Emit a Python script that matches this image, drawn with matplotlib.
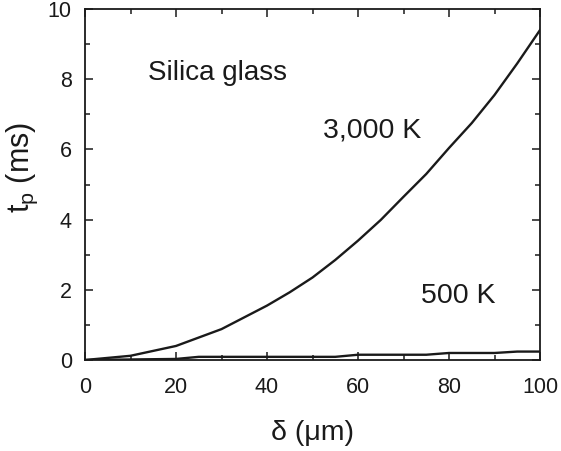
import matplotlib
matplotlib.use("Agg")
import matplotlib.pyplot as plt
from matplotlib.ticker import MultipleLocator

plt.rcParams['font.family'] = ['Liberation Sans', 'DejaVu Sans']

delta_um = [0, 10, 20, 30, 40, 45, 50, 55, 60, 65, 70, 75, 80, 85, 90, 95, 100]
tp_3000K = [0, 0.12, 0.40, 0.88, 1.55, 1.93, 2.35, 2.85, 3.40, 3.99, 4.65, 5.30, 6.04, 6.75, 7.55, 8.45, 9.40]

delta_500 = [0, 20, 25, 55, 60, 75, 80, 90, 95, 100]
tp_500K = [0, 0.03, 0.09, 0.09, 0.15, 0.15, 0.20, 0.20, 0.24, 0.24]

fig = plt.figure(figsize=(5.61, 4.51), dpi=100)
ax = fig.add_axes([85/561, 1-360/451, 455/561, 351/451])

ax.plot(delta_um, tp_3000K, color='#1a1a1a', lw=1.7)
ax.plot(delta_500, tp_500K, color='#1a1a1a', lw=1.7)

ax.set_xlim(0, 100)
ax.set_ylim(0, 10)
ax.xaxis.set_major_locator(MultipleLocator(20))
ax.xaxis.set_minor_locator(MultipleLocator(10))
ax.yaxis.set_major_locator(MultipleLocator(2))
ax.yaxis.set_minor_locator(MultipleLocator(1))
ax.tick_params(which='both', direction='in', top=True, right=True, width=1.1, colors='#1a1a1a', labelcolor='#1a1a1a')
ax.tick_params(which='major', length=6, labelsize=15.5)
ax.tick_params(axis='y', which='major', pad=9.5)
ax.tick_params(axis='x', which='major', pad=12)
ax.tick_params(which='minor', length=3.5)
for s in ax.spines.values():
    s.set_linewidth(1.3)
    s.set_color('#1a1a1a')

ax.set_xlabel('δ (μm)', fontsize=20.5, color='#1a1a1a', labelpad=16)
ax.set_ylabel('t$_\\mathregular{p}$ (ms)', fontsize=22, color='#1a1a1a')
ax.yaxis.set_label_coords(-0.1, 0.55)

ax.text(13.8, 8.18, 'Silica glass', fontsize=20, va='center', ha='left', color='#1a1a1a')
ax.text(52.3, 6.55, '3,000 K', fontsize=20.5, va='center', ha='left', color='#1a1a1a')
ax.text(73.8, 1.82, '500 K', fontsize=20.5, va='center', ha='left', color='#1a1a1a')

fig.savefig('out.png', dpi=100)
